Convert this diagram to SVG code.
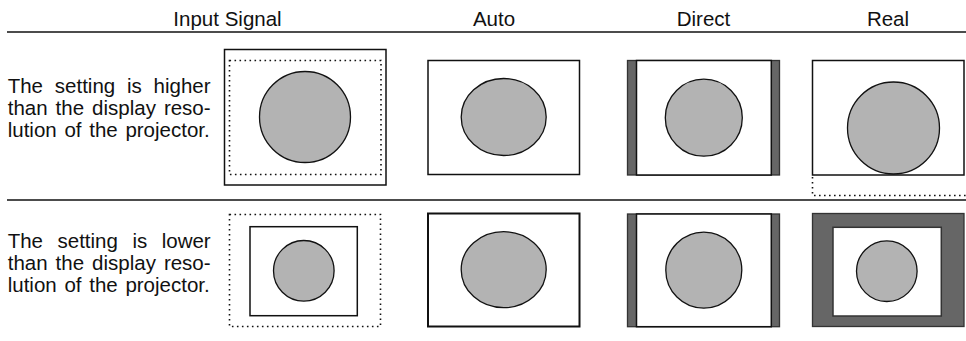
<svg xmlns="http://www.w3.org/2000/svg" width="966" height="341" viewBox="0 0 966 341">
<style>
text{font-family:"Liberation Sans",Arial,Helvetica,sans-serif;fill:#111}
.hd{font-size:20.5px;text-anchor:middle}
.bd{font-size:20.5px}
.frame{fill:#fff;stroke:#111;stroke-width:1.5}
.dot{fill:none;stroke:#111;stroke-width:1.6;stroke-dasharray:1.6 3.4}
.disc{fill:#b3b3b3;stroke:#111;stroke-width:1.3}
.dark{fill:#666;stroke:#333;stroke-width:1.3}
.rule{stroke:#111;stroke-width:1.5}
</style>
<rect width="966" height="341" fill="#fff"/>
<g id="headers">
<text class="hd" x="227.5" y="26">Input Signal</text>
<text class="hd" x="494" y="26">Auto</text>
<text class="hd" x="703.5" y="26">Direct</text>
<text class="hd" x="888" y="26">Real</text>
</g>
<g id="rules">
<line class="rule" x1="7" y1="32" x2="966" y2="32"/>
<line class="rule" x1="7" y1="200" x2="966" y2="200"/>
</g>
<g id="row1-label">
<text class="bd" x="7.7" y="93" word-spacing="6.1">The setting is higher</text>
<text class="bd" x="7.7" y="115" word-spacing="2.3">than the display reso-</text>
<text class="bd" x="7.7" y="137" word-spacing="2">lution of the projector.</text>
</g>
<g id="row2-label">
<text class="bd" x="7.7" y="248" word-spacing="8.8">The setting is lower</text>
<text class="bd" x="7.7" y="270" word-spacing="2.3">than the display reso-</text>
<text class="bd" x="7.7" y="292" word-spacing="2">lution of the projector.</text>
</g>
<g id="r1-input">
<rect class="frame" x="224.5" y="49.5" width="161.5" height="135.5"/>
<rect class="dot" x="229.5" y="60.5" width="151.5" height="114"/>
<circle class="disc" cx="305" cy="117" r="45.5"/>
</g>
<g id="r1-auto">
<rect class="frame" x="428" y="60.5" width="151.5" height="114"/>
<ellipse class="disc" cx="503.7" cy="117" rx="42.5" ry="38.5"/>
</g>
<g id="r1-direct">
<rect class="dark" x="627.5" y="60.5" width="152" height="114.5"/>
<rect class="frame" x="636.5" y="60.5" width="134.8" height="114.5"/>
<circle class="disc" cx="703.8" cy="117.7" r="38.5"/>
</g>
<g id="r1-real">
<rect class="frame" x="812.5" y="60.5" width="151.5" height="114.5"/>
<circle class="disc" cx="893.5" cy="128" r="46"/>
<path class="dot" d="M812.5 177 V195.5 H966"/>
</g>
<g id="r2-input">
<rect class="dot" x="229.5" y="214.5" width="151" height="112"/>
<rect class="frame" x="250" y="226.7" width="107.3" height="89"/>
<circle class="disc" cx="303.8" cy="270.8" r="30.3"/>
</g>
<g id="r2-auto">
<rect class="frame" x="428" y="213.5" width="151.5" height="113" style="stroke-width:2"/>
<ellipse class="disc" cx="503.7" cy="269.7" rx="42.5" ry="38"/>
</g>
<g id="r2-direct">
<rect class="dark" x="627.5" y="214" width="152" height="112.7"/>
<rect class="frame" x="636.5" y="214" width="134.8" height="112.7"/>
<circle class="disc" cx="703.8" cy="270.2" r="38"/>
</g>
<g id="r2-real">
<rect class="dark" x="812.5" y="213.5" width="151.5" height="113"/>
<rect class="frame" x="833" y="227.3" width="108.3" height="88.7" style="stroke:#333"/>
<circle class="disc" cx="886.8" cy="271.2" r="30.3"/>
</g>
</svg>
